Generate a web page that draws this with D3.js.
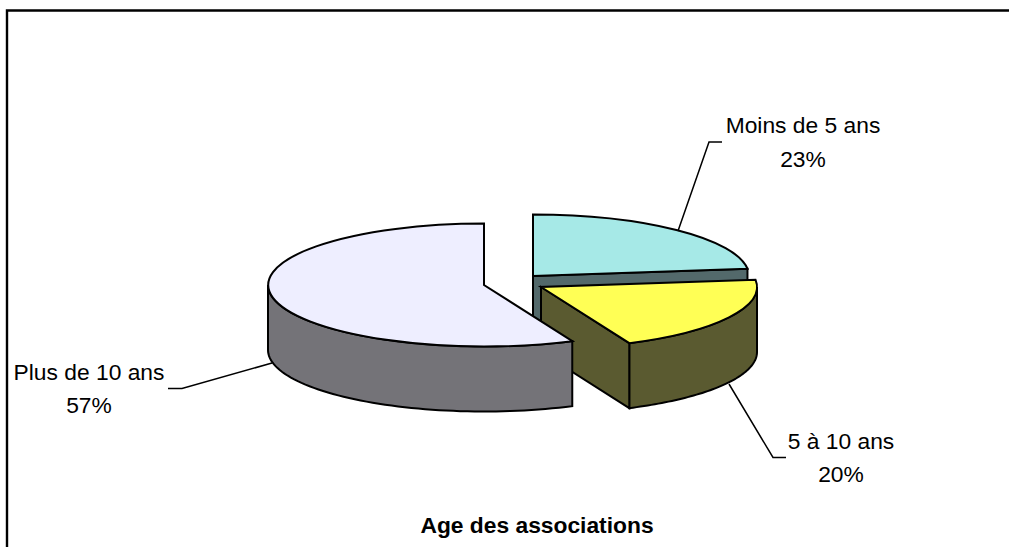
<!DOCTYPE html>
<html><head><meta charset="utf-8">
<script src="https://cdn.jsdelivr.net/npm/d3@7"></script>
<style>
html,body{margin:0;padding:0;background:#fff}
svg{display:block}
text{font-family:"Liberation Sans",Arial,sans-serif;fill:#000}
</style></head><body>
<script>
const categories = ["Moins de 5 ans", "5 à 10 ans", "Plus de 10 ans"];
const shares = [23.1, 20.2, 56.7];
const topColors = ["#a6e9e7", "#ffff55", "#eeeeff"];
const sideColors = ["#53696b", "#5a5a30", "#747378"];
const chartTitle = "Age des associations";

const W = 1009, H = 547;
const rx = 216, ry = 61.5, depth = 65;
const centers = [[533, 276], [541, 287], [484, 285]];
const labelPos = [[803, 133, 167], [841, 449, 482], [89, 380, 413]];
const leaders = [
  [[678, 231], [709, 142], [722, 142]],
  [[729, 384], [773, 457.5], [786, 457.5]],
  [[272, 363], [182, 388.5], [168, 388.5]]
];
const fontSize = 22.8;

const svg = d3.select("body").append("svg").attr("width", W).attr("height", H);
svg.append("path")
  .attr("d", `M7,${H}V10.5H${W}`)
  .attr("fill", "none").attr("stroke", "#000").attr("stroke-width", 2.4);

const pie = d3.pie().sort(null).value(d => d);
const arcs = pie(shares);
const arcGen = d3.arc().innerRadius(0).outerRadius(1);
const lineGen = d3.line();
const px = (c, a) => c[0] + rx * Math.sin(a);
const py = (c, a) => c[1] - ry * Math.cos(a);

arcs.forEach((d, i) => {
  const c = centers[i];
  const g = svg.append("g").attr("stroke", "#000").attr("stroke-width", 2).attr("stroke-linejoin", "miter");
  const a0 = Math.max(d.startAngle, Math.PI / 2);
  const a1 = Math.min(d.endAngle, 1.5 * Math.PI);
  if (a1 > a0) {
    const rim = d3.range(0, 61).map(k => a0 + (a1 - a0) * k / 60);
    const pts = rim.map(a => [px(c, a), py(c, a)])
      .concat(rim.slice().reverse().map(a => [px(c, a), py(c, a) + depth]));
    g.append("path").attr("d", lineGen(pts) + "Z").attr("fill", sideColors[i]);
  }
  if (d.endAngle < Math.PI) {
    const e = d.endAngle;
    const q = [[c[0], c[1]], [px(c, e), py(c, e)], [px(c, e), py(c, e) + depth], [c[0], c[1] + depth]];
    g.append("path").attr("d", lineGen(q) + "Z").attr("fill", sideColors[i]);
  }
  g.append("path")
    .attr("d", arcGen(d))
    .attr("transform", `translate(${c[0]},${c[1]}) scale(${rx},${ry})`)
    .attr("vector-effect", "non-scaling-stroke")
    .attr("fill", topColors[i]);
});

leaders.forEach(l => {
  svg.append("path").attr("d", lineGen(l)).attr("fill", "none")
    .attr("stroke", "#000").attr("stroke-width", 1.5);
});

categories.forEach((name, i) => {
  const [x, y1, y2] = labelPos[i];
  svg.append("text").attr("x", x).attr("y", y1).attr("text-anchor", "middle")
    .attr("font-size", fontSize).text(name);
  svg.append("text").attr("x", x).attr("y", y2).attr("text-anchor", "middle")
    .attr("font-size", fontSize).text(Math.round(shares[i]) + "%");
});

svg.append("text").attr("x", 537).attr("y", 533).attr("text-anchor", "middle")
  .attr("font-size", fontSize).attr("font-weight", "bold").text(chartTitle);
</script>
</body></html>
